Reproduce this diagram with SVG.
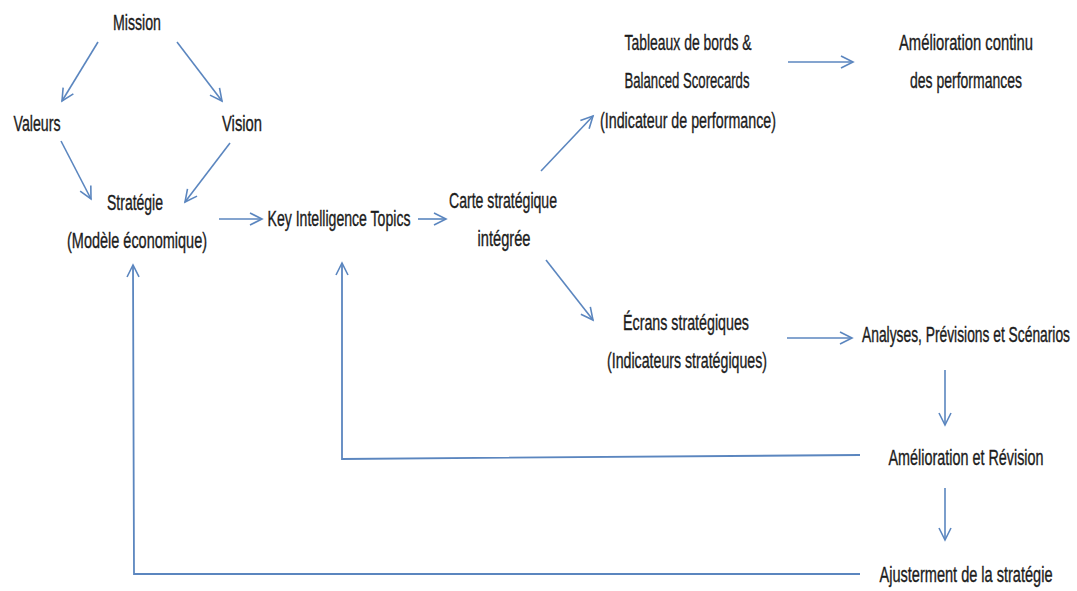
<svg xmlns="http://www.w3.org/2000/svg" width="1077" height="591" viewBox="0 0 1077 591">
  <style>
    .lbl { font-family: "Liberation Sans", Arial, sans-serif; font-size: 15px; fill: #1c1c1c; stroke: #1c1c1c; stroke-width: 0.25; text-anchor: middle; }
    .sm { font-size: 14px; }
    .con { fill: none; stroke: #5b86bf; stroke-width: 1.6; marker-end: url(#arrow); }
    .back { fill: none; stroke: #5b86bf; stroke-width: 1.8; }
  </style>
  <defs>
    <!-- open V arrowhead shared by every connector -->
    <marker id="arrow" markerUnits="userSpaceOnUse" markerWidth="16" markerHeight="16" viewBox="-13 -8 16 16" refX="0" refY="0" orient="auto">
      <path d="M -12,-6 L 0,0 L -12,6" fill="none" stroke="#5b86bf" stroke-width="1.6"/>
    </marker>
  </defs>
  <rect width="1077" height="591" fill="#ffffff"/>

  <g id="connectors">
    <line class="con" x1="98" y1="42" x2="62" y2="101"/>
    <line class="con" x1="177" y1="42" x2="222" y2="101"/>
    <line class="con" x1="61" y1="141" x2="91" y2="199"/>
    <line class="con" x1="230" y1="143" x2="185" y2="202"/>
    <line class="con" x1="219" y1="219" x2="262" y2="219"/>
    <line class="con" x1="418" y1="219" x2="446" y2="219"/>
    <line class="con" x1="541" y1="171" x2="593" y2="116"/>
    <line class="con" x1="546" y1="260" x2="593" y2="320"/>
    <line class="con" x1="788" y1="62" x2="853" y2="62"/>
    <line class="con" x1="787" y1="338" x2="852" y2="338"/>
    <line class="con" x1="945" y1="370" x2="945" y2="425"/>
    <line class="con" x1="945" y1="488" x2="945" y2="540"/>
    <!-- feedback loops -->
    <polyline class="back" points="860,455 342,459 342,263" marker-end="url(#arrow)"/>
    <polyline class="back" points="860,574 134,574 133,265" marker-end="url(#arrow)"/>
  </g>

  <!-- labels: tall, narrow lettering (vertical stretch) -->
  <g id="mission"><text class="lbl" transform="translate(137 30) scale(1 1.45)" textLength="48" lengthAdjust="spacingAndGlyphs">Mission</text></g>
  <g id="valeurs"><text class="lbl" transform="translate(37 131) scale(1 1.45)" textLength="47" lengthAdjust="spacingAndGlyphs">Valeurs</text></g>
  <g id="vision"><text class="lbl" transform="translate(242 131) scale(1 1.45)" textLength="40" lengthAdjust="spacingAndGlyphs">Vision</text></g>
  <g id="strategie">
    <text class="lbl" transform="translate(135 210) scale(1 1.45)" textLength="56" lengthAdjust="spacingAndGlyphs">Stratégie</text>
    <text class="lbl" transform="translate(137 248) scale(1 1.45)" textLength="140" lengthAdjust="spacingAndGlyphs">(Modèle économique)</text>
  </g>
  <g id="kit"><text class="lbl" transform="translate(339 226) scale(1 1.45)" textLength="143" lengthAdjust="spacingAndGlyphs">Key Intelligence Topics</text></g>
  <g id="carte">
    <text class="lbl" transform="translate(503 208) scale(1 1.45)" textLength="108" lengthAdjust="spacingAndGlyphs">Carte stratégique</text>
    <text class="lbl" transform="translate(504 246) scale(1 1.45)" textLength="53" lengthAdjust="spacingAndGlyphs">intégrée</text>
  </g>
  <g id="tableaux">
    <text class="lbl" transform="translate(688 50) scale(1 1.45)" textLength="127" lengthAdjust="spacingAndGlyphs">Tableaux de bords &amp;</text>
    <text class="lbl" transform="translate(687 88) scale(1 1.45)" textLength="125" lengthAdjust="spacingAndGlyphs">Balanced Scorecards</text>
    <text class="lbl" transform="translate(688 128) scale(1 1.45)" textLength="176" lengthAdjust="spacingAndGlyphs">(Indicateur de performance)</text>
  </g>
  <g id="amelioration-continu">
    <text class="lbl" transform="translate(966 50) scale(1 1.45)" textLength="134" lengthAdjust="spacingAndGlyphs">Amélioration continu</text>
    <text class="lbl" transform="translate(966 88) scale(1 1.45)" textLength="112" lengthAdjust="spacingAndGlyphs">des performances</text>
  </g>
  <g id="ecrans">
    <text class="lbl" transform="translate(686 330) scale(1 1.45)" textLength="126" lengthAdjust="spacingAndGlyphs">Écrans stratégiques</text>
    <text class="lbl" transform="translate(687 368) scale(1 1.45)" textLength="160" lengthAdjust="spacingAndGlyphs">(Indicateurs stratégiques)</text>
  </g>
  <g id="analyses"><text class="lbl sm" transform="translate(966 342) scale(1 1.55)" textLength="208" lengthAdjust="spacingAndGlyphs">Analyses, Prévisions et Scénarios</text></g>
  <g id="revision"><text class="lbl" transform="translate(966 465) scale(1 1.45)" textLength="155" lengthAdjust="spacingAndGlyphs">Amélioration et Révision</text></g>
  <g id="ajustement"><text class="lbl" transform="translate(966 582) scale(1 1.45)" textLength="173" lengthAdjust="spacingAndGlyphs">Ajusterment de la stratégie</text></g>
</svg>
